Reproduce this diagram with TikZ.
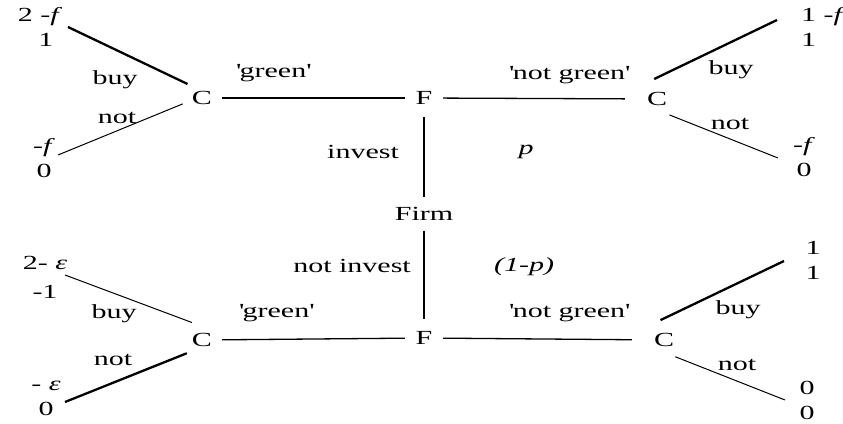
\documentclass[tikz,border=0pt]{standalone}
\usepackage{fontspec}
\setmainfont[FakeStretch=1.5]{Liberation Serif}
\usetikzlibrary{positioning}

\newcommand{\tq}[1]{\textquotesingle#1\textquotesingle}

\begin{document}
\begin{tikzpicture}[x=1pt, y=-1pt,
    font=\fontsize{20}{25}\selectfont,
    dec/.style={circle, inner sep=0pt, minimum size=#1},
    dec/.default=40pt,
    pay/.style={align=center, inner sep=0pt},
    lbl/.style={inner sep=0pt},
    br/.style={line width=1.3pt},
    mv/.style={line width=1pt},
    eq/.style={line width=2.3pt},
]
\useasboundingbox (0,0) rectangle (843,423);

% ===== Decision nodes =====
\node[inner sep=0pt, minimum height=33pt] (firm) at (424,214) {Firm};
\node[dec=38pt] (fi) at (424,98)  {F};
\node[dec=38pt] (fn) at (424,338) {F};
\node[dec] (ctl) at (202,98)  {C};
\node[dec] (ctr) at (657,99)  {C};
\node[dec] (cbl) at (202,340) {C};
\node[dec] (cbr) at (664,340) {C};

% ===== Free ends of the consumer moves =====
\coordinate (etlb) at (68,27);
\coordinate (etln) at (58,155);
\coordinate (etrb) at (777,20);
\coordinate (etrn) at (778,158);
\coordinate (eblb) at (65,275);
\coordinate (ebln) at (65,402);
\coordinate (ebrb) at (784,261);
\coordinate (ebrn) at (785,400);

% ===== Payoffs =====
\node[pay] (ptlb) at (40,27)   {2 -\textit{f}\\\hspace*{12pt}1};
\node[pay] (ptln) at (44,158)  {-\textit{f}\\0};
\node[pay, align=left, anchor=west] (ptrb) at (801,27) {1 -\textit{f}\\1};
\node[pay] (ptrn) at (804,157) {-\textit{f}\\0};
\node[pay, font=\fontsize{20}{29}\selectfont] (pblb) at (45,277) {2- \textit{ε}\\-1};
\node[pay] (pbln) at (46,398)  {- \textit{ε}\\0};
\node[pay] (pbrb) at (813,260) {1\\1};
\node[pay] (pbrn) at (807,400) {0\\0};

% ===== Firm and signal branches =====
\draw[br] (fi) -- (firm);
\draw[br] (firm) -- (fn);
\draw[br] (ctl) -- (fi);
\draw[br, shorten >=12pt] (fi) -- (ctr);
\draw[br] (cbl) -- (fn);
\draw[br, shorten >=12pt] (fn) -- (cbr);

% ===== Consumer moves (thick = chosen) =====
\draw[eq] (ctl.136) -- (etlb);
\draw[mv] (ctl.197) -- (etln);
\draw[eq] (ctr.98)  -- (etrb);
\draw[mv] (ctr.308) -- (etrn);
\draw[mv] (cbl.120) -- (eblb);
\draw[eq] (cbl.221) -- (ebln);
\draw[eq] (cbr.100) -- (ebrb);
\draw[mv] (cbr.304) -- (ebrn);

% ===== Labels =====
\node[lbl] (lgt)  at (273,73)  {\tq{green}};
\node[lbl] (lngt) at (569,75)  {\tq{not green}};
\node[lbl] (lgb)  at (276,313) {\tq{green}};
\node[lbl] (lngb) at (569,313) {\tq{not green}};
\node[lbl] (linv) at (363,152) {invest};
\node[lbl] (lnin) at (352,266) {not invest};
\node[lbl] (lp)   at (526,152) {\textit{p}};
\node[lbl] (lq)   at (524,267) {\textit{(1-p)}};
\node[lbl] (btl)  at (115,80)  {buy};
\node[lbl] (ntl)  at (117,118) {not};
\node[lbl] (btr)  at (731,70)  {buy};
\node[lbl] (ntr)  at (730,124) {not};
\node[lbl] (bbl)  at (114,314) {buy};
\node[lbl] (nbl)  at (113,360) {not};
\node[lbl] (bbr)  at (738,310) {buy};
\node[lbl] (nbr)  at (737,365) {not};

\end{tikzpicture}
\end{document}
